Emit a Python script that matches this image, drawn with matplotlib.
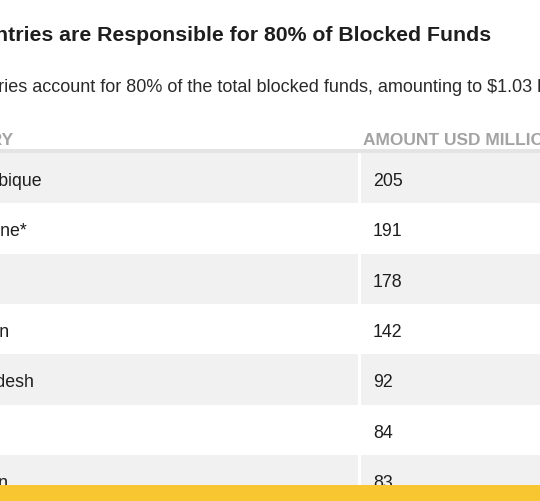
import matplotlib
matplotlib.use("Agg")
import matplotlib.pyplot as plt
from matplotlib.patches import Rectangle

# table data
title = "10 Countries are Responsible for 80% of Blocked Funds"
subtitle = "10 countries account for 80% of the total blocked funds, amounting to $1.03 billion"
headers = ["COUNTRY", "AMOUNT USD MILLION"]
countries = ["Mozambique", "XAF Zone*", "Algeria", "Lebanon", "Bangladesh", "Angola", "Pakistan"]
amounts = [205, 191, 178, 142, 92, 84, 83]

W, H = 540, 501
fig = plt.figure(figsize=(W / 100, H / 100), dpi=100)
ax = fig.add_axes([0, 0, 1, 1])
ax.set_xlim(0, W)
ax.set_ylim(H, 0)
ax.axis("off")

plt.rcParams["font.family"] = ["Liberation Sans", "DejaVu Sans"]

ink = "#1e1e1e"
grey_fill = "#f1f1f1"
head_col = "#a3a3a3"

ax.text(491, 41, title, ha="right", va="baseline", fontsize=15.3, fontweight="bold", color=ink)
ax.text(-71, 92, subtitle, ha="left", va="baseline", fontsize=13, color="#2a2a2a")

# header
col_x = [-60, 373]
ax.text(13, 145, headers[0], ha="right", va="baseline", fontsize=12.5, fontweight="bold", color=head_col)
ax.text(363, 145, headers[1], ha="left", va="baseline", fontsize=12.5, fontweight="bold", color=head_col)
ax.add_patch(Rectangle((0, 149), W, 4, color="#e4e4e4", lw=0))

top, pitch = 153, 50.3
for i, (name, val) in enumerate(zip(countries, amounts)):
    y0 = top + i * pitch
    if i % 2 == 0:
        ax.add_patch(Rectangle((0, y0), W, pitch, color=grey_fill, lw=0))
        ax.add_patch(Rectangle((358, y0), 3, pitch, color="white", lw=0))
    yb = y0 + pitch / 2 + 8
    ax.text(col_x[0], yb, name, ha="left", va="baseline", fontsize=12.8, color=ink)
    ax.text(col_x[1], yb, str(val), ha="left", va="baseline", fontsize=12.8, color=ink)

# yellow band at the bottom
ax.add_patch(Rectangle((0, 485), W, H - 485, color="#f7c630", lw=0, zorder=5))

fig.savefig("out.png", dpi=100)
